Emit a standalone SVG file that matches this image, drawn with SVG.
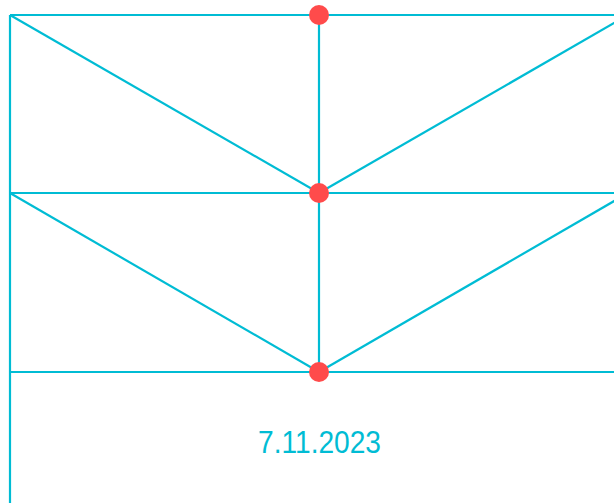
<svg xmlns="http://www.w3.org/2000/svg" width="614" height="503" viewBox="0 0 614 503">
<style>
.ln{stroke:#00BCD4;stroke-width:2.2;fill:none;stroke-linecap:butt}
.dot{fill:#FF4B4B}
.lbl{font-family:"Liberation Sans",Arial,sans-serif;font-size:31px;fill:#00BCD4;text-anchor:middle}
</style>
<rect width="614" height="503" fill="#ffffff"/>
<g id="connectors">
<line class="ln" x1="10" y1="15" x2="10" y2="503"/>
<line class="ln" x1="10" y1="15" x2="614" y2="15"/>
<line class="ln" x1="10" y1="193" x2="614" y2="193"/>
<line class="ln" x1="10" y1="372" x2="614" y2="372"/>
<line class="ln" x1="319" y1="15" x2="319" y2="372"/>
<line class="ln" x1="10" y1="15" x2="319" y2="193"/>
<line class="ln" x1="628" y1="15" x2="319" y2="193"/>
<line class="ln" x1="10" y1="193" x2="319" y2="372"/>
<line class="ln" x1="628" y1="193" x2="319" y2="372"/>
</g>
<g id="node-top"><circle class="dot" cx="319" cy="15" r="10"/></g>
<g id="node-mid"><circle class="dot" cx="319" cy="193" r="10"/></g>
<g id="node-bottom"><circle class="dot" cx="319" cy="372" r="10"/></g>
<g id="label"><text class="lbl" x="319.5" y="453" textLength="123" lengthAdjust="spacingAndGlyphs">7.11.2023</text></g>
</svg>
